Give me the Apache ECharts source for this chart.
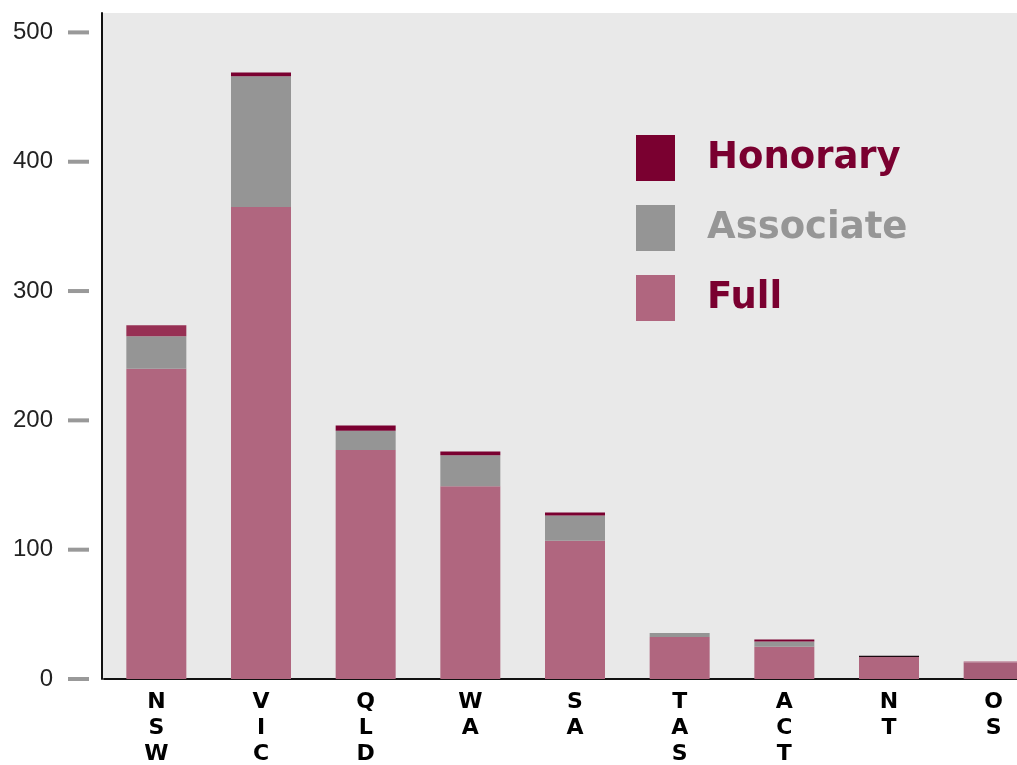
<!DOCTYPE html>
<html>
<head>
<meta charset="utf-8">
<script src="https://cdn.jsdelivr.net/npm/echarts@6/dist/echarts.min.js"></script>
<style>
html,body{margin:0;padding:0;background:#fff;}
#chart{width:1017px;height:765px;}
</style>
</head>
<body>
<div id="chart"></div>
<script>
const categories = ['NSW','VIC','QLD','WA','SA','TAS','ACT','NT','OS'];
const fullValues = [240, 365, 177, 149, 107, 32.5, 25, 17, 13];
const associateValues = [25, 101, 15, 24, 19.5, 3, 4, 0, 0.8];
const honoraryValues = [8.5, 3, 4, 3, 2.3, 0, 1.5, 0.9, 0];
const yTicks = [0, 100, 200, 300, 400, 500];

const chart = echarts.init(document.getElementById('chart'), null, {renderer: 'canvas'});

const fullData = fullValues.map((v, i) => i === 8 ? {value: v, itemStyle: {color: '#a65e78'}} : v);
const assocData = associateValues.map((v, i) => i === 8 ? {value: v, itemStyle: {color: '#c08a9e'}} : v);
const honData = honoraryValues.map((v, i) => {
  if (i === 0) return {value: v, itemStyle: {color: '#973054'}};
  if (i === 7) return {value: v, itemStyle: {color: '#1a0a10'}};
  return v;
});

chart.setOption({
  animation: false,
  backgroundColor: '#ffffff',
  graphic: [{
    type: 'rect', left: 101, top: 13, z: -10,
    shape: {width: 4, height: 666},
    style: {fill: '#e9e9e9'}
  }],
  grid: {
    left: 104, top: 13, bottom: 86, width: 942,
    outerBoundsMode: 'none', containLabel: false,
    show: true, backgroundColor: '#e9e9e9', borderWidth: 0
  },
  legend: {
    orient: 'vertical',
    left: 631, top: 130,
    itemWidth: 39, itemHeight: 46, itemGap: 24,
    icon: 'rect',
    data: [
      {name: 'Honorary', textStyle: {color: '#7a0030'}},
      {name: 'Associate', textStyle: {color: '#969696'}},
      {name: 'Full', textStyle: {color: '#7a0030'}}
    ],
    textStyle: {
      fontFamily: 'DejaVu Sans', fontWeight: 'bold', fontSize: 37,
      padding: [8, 0, 0, 27]
    }
  },
  xAxis: {
    type: 'category',
    data: categories,
    axisLine: {show: true, lineStyle: {color: '#111', width: 2}},
    axisTick: {show: false},
    axisLabel: {
      interval: 0,
      margin: 10,
      formatter: v => v.split('').join('\n'),
      fontFamily: 'DejaVu Sans', fontWeight: 'bold', fontSize: 22,
      lineHeight: 26, color: '#000'
    }
  },
  yAxis: {
    type: 'value',
    min: 0, max: 515, interval: 100,
    offset: 2,
    splitLine: {show: false},
    axisTick: {show: false},
    axisLine: {show: true, lineStyle: {color: '#111', width: 2}},
    axisLabel: {
      margin: 13,
      formatter: v => yTicks.indexOf(v) >= 0 ? '{n|' + v + '}{s| }{t| }' : '',
      rich: {
        n: {fontFamily: 'Liberation Sans', fontSize: 24, color: '#222'},
        s: {width: 15, fontSize: 4},
        t: {width: 21, height: 4, fontSize: 4, backgroundColor: '#999'}
      }
    }
  },
  series: [
    {name: 'Full', type: 'bar', stack: 'm', barWidth: 60, data: fullData, itemStyle: {color: '#b0667f'}},
    {name: 'Associate', type: 'bar', stack: 'm', barWidth: 60, data: assocData, itemStyle: {color: '#959595'}},
    {name: 'Honorary', type: 'bar', stack: 'm', barWidth: 60, data: honData, itemStyle: {color: '#7a0030'}}
  ]
});
</script>
</body>
</html>
